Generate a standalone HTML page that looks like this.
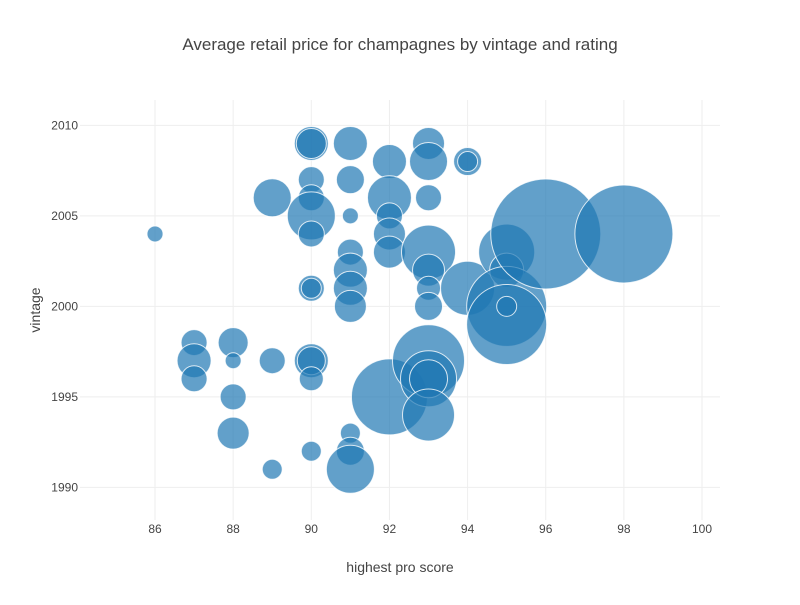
<!DOCTYPE html>
<html><head><meta charset="utf-8"><style>
body{margin:0;background:#fff;font-family:"Liberation Sans",sans-serif}
</style></head><body>
<svg id="c" width="800" height="600" xmlns="http://www.w3.org/2000/svg"></svg>
<script>
const scores=[86,87,87,87,88,88,88,88,89,89,89,90,90,90,90,90,90,90,90,90,90,90,90,91,91,91,91,91,91,91,91,91,91,92,92,92,92,92,92,93,93,93,93,93,93,93,93,93,93,93,94,94,94,95,95,95,95,95,96,98];
const vintages=[2004,1998,1997,1996,1998,1997,1995,1993,2006,1997,1991,2009,2007,2006,2005,2004,2001,2001,1997,1997,1996,1992,2009,2009,2007,2005,2003,2002,2001,2000,1993,1992,1991,2008,2006,2005,2004,2003,1995,2009,2008,2006,2003,2002,2001,2000,1997,1996,1996,1994,2008,2008,2001,2003,2002,2000,1999,2000,2004,2004];
const sizes=[16,26,34,26,30,16,26,32,38,26,20,34,26,26,48,26,26,20,34,28,24,20,30,34,28,16,26,34,34,32,20,28,48,34,44,26,32,32,76,32,38,26,54,32,24,28,72,56,38,52,28,20,54,56,34,80,80,20,110,98];
const xTicks=[86,88,90,92,94,96,98,100];
const yTicks=[1990,1995,2000,2005,2010];
const svg=document.getElementById('c');const NS='http://www.w3.org/2000/svg';
const L=80,R=720,T=100,B=520,x0=84.08,x1=100.46,y0=1988.2,y1=2011.4;
const X=v=>L+(v-x0)/(x1-x0)*(R-L);
const Y=v=>B-(v-y0)/(y1-y0)*(B-T);
function mk(t,a,p){const e=document.createElementNS(NS,t);for(const k in a)e.setAttribute(k,a[k]);(p||svg).appendChild(e);return e;}
xTicks.forEach(t=>{const l=mk('line',{x1:X(t),x2:X(t),y1:T,y2:B,stroke:'#eee'});


const tx=mk('text',{x:X(t),y:B+13,'text-anchor':'middle','font-size':12,fill:'#444'});tx.textContent=t;

});
yTicks.forEach(t=>{const l=mk('line',{x1:L,x2:R,y1:Y(t),y2:Y(t),stroke:'#eee'});


const tx=mk('text',{x:L-2,y:Y(t)+4,'text-anchor':'end','font-size':12,fill:'#444'});tx.textContent=t;

});
const g=mk('g',{});


scores.forEach((s,i)=>{const c=mk('circle',{cx:X(s),cy:Y(vintages[i]),r:sizes[i]/2,fill:'rgb(31,119,180)','fill-opacity':0.7,stroke:'#fff','stroke-opacity':0.8,'stroke-width':1},g);

});
const ti=mk('text',{x:400,y:50,'text-anchor':'middle','font-size':17,fill:'#444'});ti.textContent='Average retail price for champagnes by vintage and rating';


const xt=mk('text',{x:400,y:572,'text-anchor':'middle','font-size':14,fill:'#444'});xt.textContent='highest pro score';


const yt=mk('text',{x:0,y:0,'text-anchor':'middle','font-size':14,fill:'#444',transform:'translate(40,310) rotate(-90)'});yt.textContent='vintage';


</script>
</body></html>
